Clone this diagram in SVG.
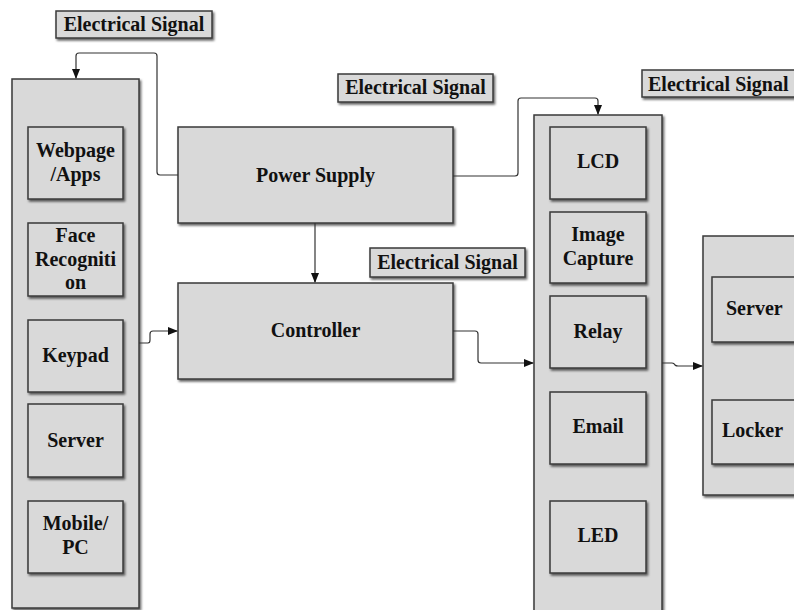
<svg xmlns="http://www.w3.org/2000/svg" width="794" height="610" viewBox="0 0 794 610">
<defs>
<filter id="sh" x="-10%" y="-10%" width="130%" height="130%">
<feDropShadow dx="1.5" dy="2" stdDeviation="1.2" flood-color="#000" flood-opacity="0.6"/>
</filter>
<marker id="ah" markerWidth="10" markerHeight="8" refX="9" refY="4" orient="auto" markerUnits="userSpaceOnUse">
<path d="M0,0 L10,4 L0,8 Z" fill="#111"/>
</marker>
<style>
.box{fill:#d9d9d9;stroke:#3a3a3a;stroke-width:1.5;filter:url(#sh)}
.t,.ts{font-family:'Liberation Serif','Times New Roman',serif;font-weight:bold;font-size:20px;fill:#111}
.t{text-anchor:middle}
.c{fill:none;stroke:#333;stroke-width:1.2}
</style>
</defs>
<rect width="794" height="610" fill="#fff"/>
<g id="label1"><rect class="box" x="56" y="11" width="156" height="27"/><text class="t" x="134" y="31">Electrical Signal</text></g>
<g id="label2"><rect class="box" x="338" y="74" width="155" height="28"/><text class="t" x="415.5" y="94">Electrical Signal</text></g>
<g id="label3"><rect class="box" x="370" y="248" width="155" height="29"/><text class="t" x="447.5" y="269">Electrical Signal</text></g>
<g id="label4"><rect class="box" x="642" y="70" width="160" height="27"/><text class="ts" x="648" y="91">Electrical Signal</text></g>

<g id="inputs">
<rect class="box" x="12" y="79" width="127" height="529"/>
<g id="webpage"><rect class="box" x="28" y="127" width="95" height="72"/><text class="t" x="75.5" y="157">Webpage</text><text class="t" x="75.5" y="181">/Apps</text></g>
<g id="face"><rect class="box" x="28" y="223" width="95" height="73"/><text class="t" x="75.5" y="242">Face</text><text class="t" x="75.5" y="266">Recogniti</text><text class="t" x="75.5" y="289">on</text></g>
<g id="keypad"><rect class="box" x="28" y="320" width="95" height="72"/><text class="t" x="75.5" y="362">Keypad</text></g>
<g id="server1"><rect class="box" x="28" y="404" width="95" height="73"/><text class="t" x="75.5" y="447">Server</text></g>
<g id="mobile"><rect class="box" x="28" y="501" width="95" height="72"/><text class="t" x="75.5" y="530">Mobile/</text><text class="t" x="75.5" y="554">PC</text></g>
</g>

<g id="power"><rect class="box" x="178" y="127" width="275" height="96"/><text class="t" x="315.5" y="182">Power Supply</text></g>
<g id="controller"><rect class="box" x="178" y="283" width="275" height="96"/><text class="t" x="315.5" y="337">Controller</text></g>

<g id="outputs">
<rect class="box" x="534" y="115" width="128" height="505"/>
<g id="lcd"><rect class="box" x="550" y="127" width="96" height="72"/><text class="t" x="598" y="168">LCD</text></g>
<g id="image"><rect class="box" x="550" y="212" width="96" height="71"/><text class="t" x="598" y="241">Image</text><text class="t" x="598" y="265">Capture</text></g>
<g id="relay"><rect class="box" x="550" y="296" width="96" height="72"/><text class="t" x="598" y="338">Relay</text></g>
<g id="email"><rect class="box" x="550" y="392" width="96" height="72"/><text class="t" x="598" y="433">Email</text></g>
<g id="led"><rect class="box" x="550" y="501" width="96" height="72"/><text class="t" x="598" y="542">LED</text></g>
</g>

<g id="final">
<rect class="box" x="703" y="236" width="110" height="259"/>
<g id="server2"><rect class="box" x="712" y="277" width="100" height="65"/><text class="ts" x="726" y="315">Server</text></g>
<g id="locker"><rect class="box" x="712" y="400" width="100" height="64"/><text class="ts" x="722" y="437">Locker</text></g>
</g>

<g id="connectors">
<path class="c" d="M178,175 H160 Q157,175 157,172 V56 Q157,53 154,53 H79 Q76,53 76,56 V78" marker-end="url(#ah)"/>
<path class="c" d="M453,176 H515 Q518,176 518,173 V101 Q518,98 521,98 H595 Q598,98 598,101 V114" marker-end="url(#ah)"/>
<path class="c" d="M315,223 V282" marker-end="url(#ah)"/>
<path class="c" d="M139,343 H148 Q150,343 150,340 V334 Q150,331 153,331 H177" marker-end="url(#ah)"/>
<path class="c" d="M453,331 H475 Q478,331 478,334 V360 Q478,363 481,363 H533" marker-end="url(#ah)"/>
<path class="c" d="M662,363 H672 Q674,363 675,365 Q676,366 678,366 H702" marker-end="url(#ah)"/>
</g>
</svg>
